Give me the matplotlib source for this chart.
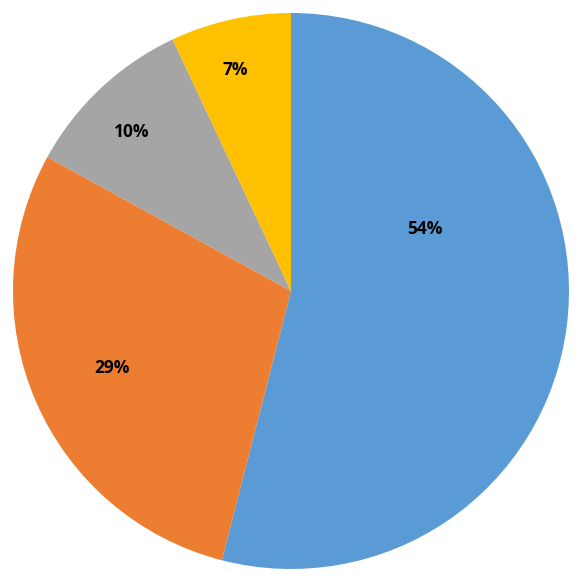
import matplotlib
matplotlib.use('Agg')
import matplotlib.pyplot as plt
import numpy as np

valores = [54, 29, 10, 7]
rotulos = ['54%', '29%', '10%', '7%']
cores = ['#5B9BD5', '#ED7D31', '#A5A5A5', '#FFC000']

# posicao dos rotulos: distancia relativa ao raio e deslocamento angular (graus)
dist_rotulos = [0.53, 0.70, 0.81, 0.82]
desloc_rotulos = [32, 0, 2, 1.5]

fig = plt.figure(figsize=(5.8, 5.8), dpi=100)
ax = fig.add_axes([0.0224, 0.019, 0.9586, 0.9586])

wedges, _ = ax.pie(valores, colors=cores, startangle=90, counterclock=False,
                   radius=1, wedgeprops={'linewidth': 0})

for w, txt, d, s in zip(wedges, rotulos, dist_rotulos, desloc_rotulos):
    ang = np.deg2rad((w.theta1 + w.theta2) / 2 + s)
    ax.text(d * np.cos(ang), d * np.sin(ang), txt, ha='center', va='center',
            fontsize=12.5, fontweight='bold', family='Open Sans', color='black')

ax.set_xlim(-1, 1)
ax.set_ylim(-1, 1)
ax.set_aspect('equal')
ax.axis('off')

plt.savefig('out.png', dpi=100)
plt.close()
